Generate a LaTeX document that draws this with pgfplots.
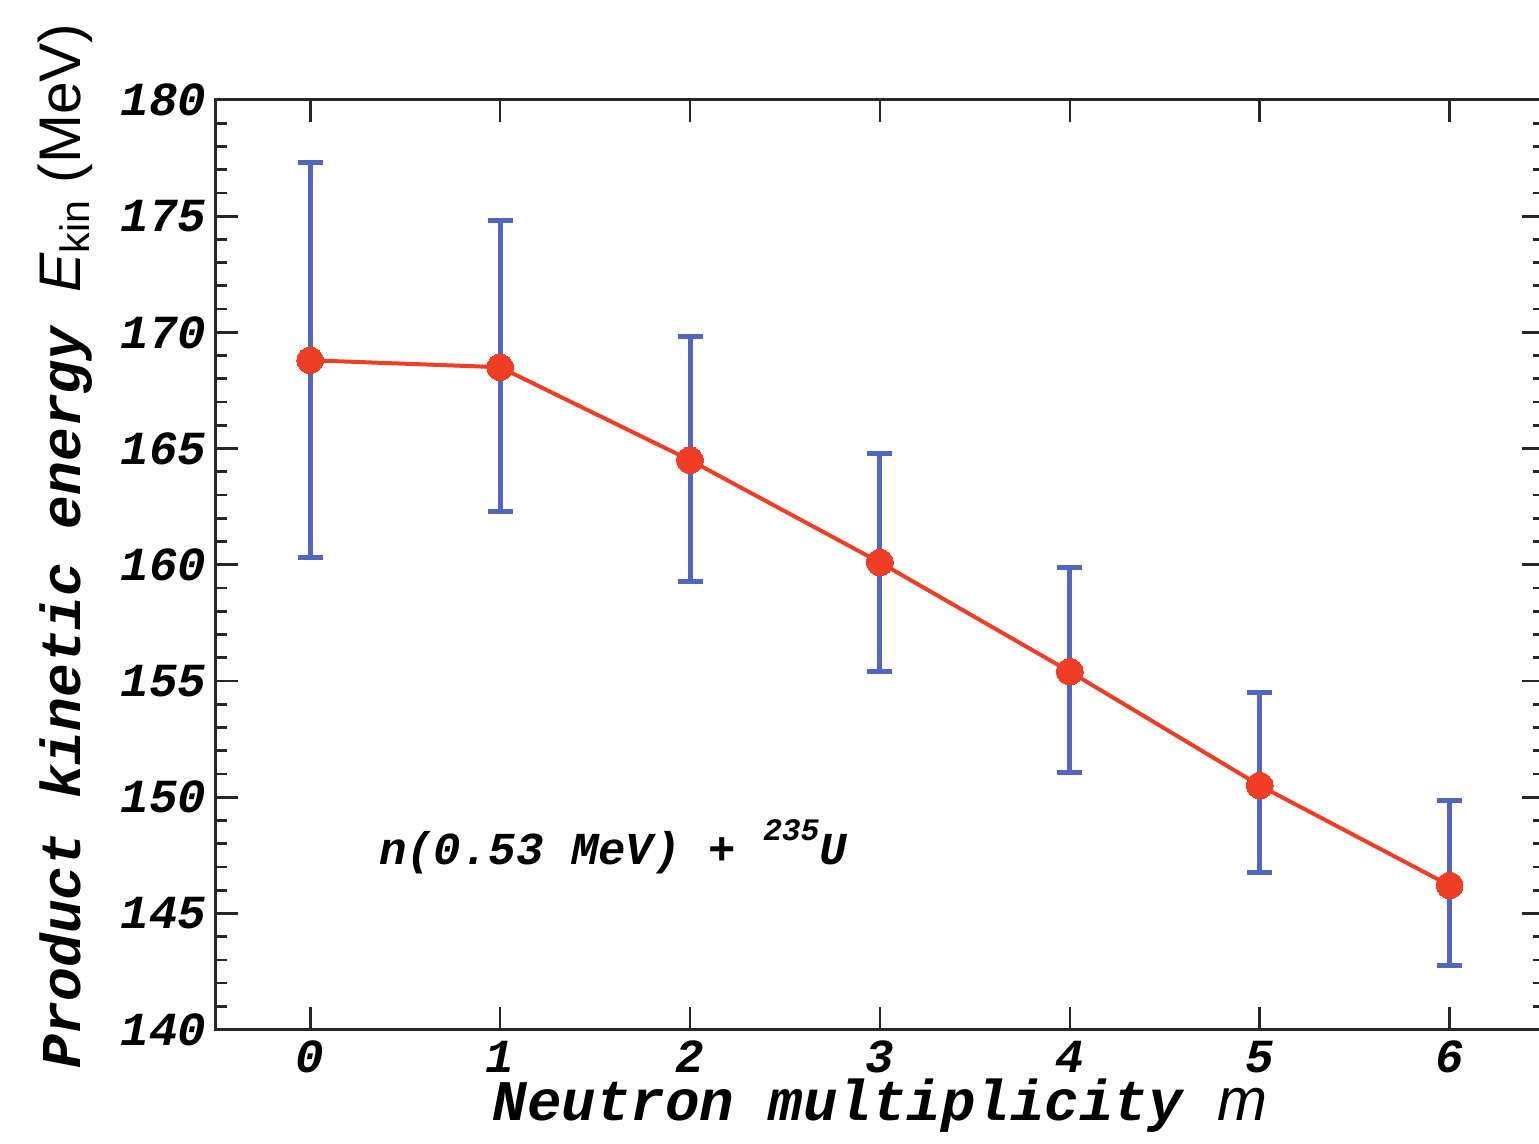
\documentclass[border=0pt]{standalone}
\usepackage{fontspec}
\setmainfont{Liberation Serif}
\setmonofont{Liberation Mono}
\setsansfont{Liberation Sans}
\usepackage{pgfplots}
\pgfplotsset{compat=1.18}
\definecolor{ptred}{RGB}{240,62,38}
\definecolor{barblue}{RGB}{82,102,192}
\newcommand{\cf}[1]{\fontsize{#1}{#1}\selectfont\ttfamily\bfseries\itshape}
\begin{document}
\begin{tikzpicture}
\begin{axis}[
  scale only axis,
  width=532pt, height=372pt,
  xmin=-0.5, xmax=6.5, ymin=140, ymax=180,
  xtick={0,1,2,3,4,5,6},
  ytick={140,145,150,155,160,165,170,175,180},
  minor y tick num=4,
  axis line style={line width=1.2pt, black!85},
  every tick/.style={line width=1.1pt, black!85},
  major tick length=9pt,
  minor tick length=4.8pt,
  tick align=inside,
  clip=false,
  /pgf/number format/assume math mode=true,
  ticklabel style={font=\cf{19}},
  xticklabel style={yshift=-1pt},
  xlabel={Neutron multiplicity {\sffamily\mdseries\itshape\fontsize{24}{24}\selectfont m}},
  xlabel style={font=\cf{23}, at={(rel axis cs:0.5,-0.098)}, anchor=base},
  ylabel={Product kinetic energy {\sffamily\mdseries\fontsize{23.5}{23.5}\selectfont\itshape E\textsubscript{\upshape kin} \upshape(MeV)}},
  ylabel style={font=\cf{22.5}, at={(rel axis cs:-0.113,0.52)}, anchor=center},
]
\addplot[draw=none, mark=none,
  error bars/.cd, y dir=both, y explicit,
  error bar style={barblue, line width=2pt},
  error mark options={barblue, line width=2pt, rotate=90, mark size=5pt}]
coordinates {
  (0,168.8) += (0,8.5) -= (0,8.5)
  (1,168.5) += (0,6.3) -= (0,6.2)
  (2,164.5) += (0,5.3) -= (0,5.2)
  (3,160.1) += (0,4.7) -= (0,4.7)
  (4,155.4) += (0,4.5) -= (0,4.35)
  (5,150.5) += (0,4.0) -= (0,3.75)
  (6,146.2) += (0,3.65) -= (0,3.45)
};
\addplot[ptred, line width=1.6pt, mark=*, mark size=5.3pt, mark options={fill=ptred, draw=ptred, line width=0pt}]
coordinates {(0,168.8) (1,168.5) (2,164.5) (3,160.1) (4,155.4) (5,150.5) (6,146.2)};
\node[anchor=base west, inner sep=0pt, font=\cf{18.3}] at (axis cs:0.36,147.1) {n(0.53 MeV) + \raisebox{9.5pt}{\fontsize{12.5}{12.5}\selectfont 235}U};
\coordinate (BL) at (axis cs:-1.633,135.1);
\coordinate (TR) at (axis cs:6.47,184.3);
\end{axis}
\pgfresetboundingbox
\useasboundingbox (BL) rectangle (TR);
\end{tikzpicture}
\end{document}
